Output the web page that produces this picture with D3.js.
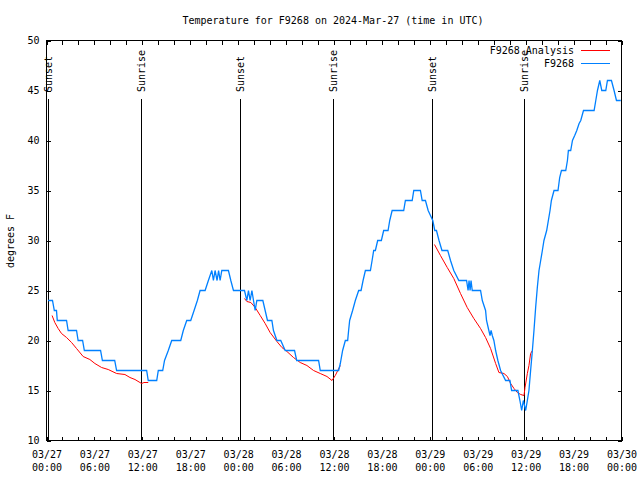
<!DOCTYPE html>
<html>
<head>
<meta charset="utf-8">
<script src="https://cdn.jsdelivr.net/npm/d3@7"></script>
<style>
  html, body { margin: 0; padding: 0; background: #fff; }
  svg text { font-family: "DejaVu Sans Mono", monospace; font-size: 10px; fill: #000; }
</style>
</head>
<body>
<svg id="chart" width="640" height="480"></svg>
<script>
// ---- data (hours since 2024-03-27 00:00 UTC) ----
const obsHours = [0.2,0.75,0.98,1.25,1.35,2.51,2.71,3.76,3.96,4.52,4.74,6.77,7.0,8.54,8.78,12.54,12.74,13.8,14.0,14.55,
  14.78,15.25,15.68,16.81,17.13,17.56,18.06,18.48,18.89,19.23,19.86,20.27,20.7,20.9,21.11,21.36,21.55,21.74,21.95,22.78,
  23.08,23.41,24.79,25.09,25.29,25.5,25.72,25.92,26.13,26.34,27.09,27.38,27.67,28.22,28.42,28.85,29.33,29.89,31.06,31.33,
  34.07,34.28,36.58,36.79,37.08,37.42,37.71,37.83,37.96,38.33,38.67,39.09,39.39,39.64,39.93,40.56,40.77,40.97,41.18,41.47,
  41.93,42.22,42.77,42.98,43.28,44.73,44.94,45.79,45.99,46.82,47.04,47.45,47.79,48.08,48.37,48.62,48.83,49.15,49.52,50.24,
  50.59,51.0,51.63,52.6,52.79,52.91,53.04,53.16,53.31,54.35,54.57,54.98,55.1,55.39,55.54,55.67,55.82,56.02,56.24,56.52,
  56.86,57.49,58.03,58.24,59.03,59.28,59.5,59.71,60.0,60.21,60.41,60.62,60.84,61.04,61.25,61.46,61.67,61.88,62.09,62.29,
  62.63,63.05,63.22,63.55,64.05,64.26,64.48,65.02,65.23,65.35,65.64,65.86,66.14,66.4,66.69,66.9,67.24,68.57,68.78,68.99,
  69.28,69.53,70.03,70.24,70.74,71.07,71.37,71.91];
const obsTemps = [24,24,23,23,22,22,21,21,20,20,19,19,18,18,17,17,16,16,17,17,
  18,19,20,20,21,22,22,23,24,25,25,26,27,26,27,26,27,26,27,27,
  26,25,25,24,25,24,25,24,23,24,24,23,22,22,21,20,20,19,19,18,
  18,17,17,17.7,19,20,20,21,22,23,24,25,25,26,27,27,28,29,29,30,
  30,31,31,32,33,33,34,34,35,35,34,34,33,32.5,32,31,31,30,29,29,
  28,27,26,26,25,26,25,26,25,25,24,23,22,21,20.5,21,20.5,20,19,18,
  17,16,16,15,15,14,13,14,13,14,15,17,19,21,23.3,25.3,27,28,29,30,
  31,33,34,35,35,36.3,37,37,38,39,39,40,40.5,41,41.7,42,43,43,44,45,
  46,45,45,46,46,45,44,44];

// analysis series; null marks a gap
const anaHours = [0.7,1.04,1.46,1.88,2.51,3.14,3.76,4.59,5.43,6.06,6.9,7.73,8.78,9.82,10.45,11.08,11.7,11.92,12.2,12.74,
  null,
  24.79,25.09,25.59,26.13,26.76,27.38,28.0,28.85,29.48,30.11,30.93,31.77,32.61,33.44,34.28,35.12,35.75,36.16,36.79,
  null,
  48.58,49.33,50.18,51.0,51.84,52.68,53.51,54.35,54.98,55.61,56.24,56.65,57.28,57.71,58.12,58.54,58.96,59.38,59.79,59.92,
  60.21,60.41,60.62,60.84];
const anaTemps = [22.5,21.8,21.2,20.7,20.3,19.8,19.2,18.4,18.1,17.7,17.3,17.1,16.7,16.6,16.3,16.1,15.8,15.7,15.8,15.8,
  null,
  24.2,23.9,23.8,23.3,22.5,21.7,20.8,19.9,19.3,18.9,18.3,17.8,17.5,17.0,16.7,16.4,16.0,16.5,17.5,
  null,
  29.6,28.5,27.3,26.2,24.7,23.3,22.2,21.2,20.3,19.2,17.7,16.8,16.7,16.4,15.7,15.2,14.8,14.6,14.5,15.3,
  16.7,17.5,18.7,19.0];

const eventHours = [0.15, 11.8, 24.2, 35.85, 48.3, 59.85];
const eventLabels = ["Sunset","Sunrise","Sunset","Sunrise","Sunset","Sunrise"];

const yTicks = [10,15,20,25,30,35,40,45,50];
const titleText = "Temperature for F9268 on 2024-Mar-27 (time in UTC)";
const yLabel = "degrees F";
const seriesNames = ["F9268 Analysis", "F9268"];
const seriesColors = ["#ff0000", "#0080ff"];

// ---- drawing ----
const t0 = Date.UTC(2024, 2, 27);
const toDate = h => new Date(t0 + h * 3600e3);

const svg = d3.select("#chart");
const x = d3.scaleUtc().domain([toDate(0), toDate(72)]).range([46.5, 621.5]);
const y = d3.scaleLinear().domain([10, 50]).range([440.5, 40.5]);

// ticks every 2h, labels every 6h
const tickDates = d3.utcHour.every(2).range(toDate(0), toDate(72.01));
const fmtD = d3.utcFormat("%m/%d"), fmtT = d3.utcFormat("%H:%M");

const xb = svg.append("g").attr("transform", "translate(0,440.5)")
  .call(d3.axisBottom(x).tickValues(tickDates).tickSize(-4).tickPadding(6).tickFormat(""));
const xt = svg.append("g").attr("transform", "translate(0,40.5)")
  .call(d3.axisTop(x).tickValues(tickDates).tickSize(-4).tickFormat(""));
const yl = svg.append("g").attr("transform", "translate(46.5,0)")
  .call(d3.axisLeft(y).tickValues(yTicks).tickSize(-4).tickPadding(7).tickFormat(d3.format("d")));
const yr = svg.append("g").attr("transform", "translate(621.5,0)")
  .call(d3.axisRight(y).tickValues(yTicks).tickSize(-4).tickFormat(""));
[xb, xt, yl, yr].forEach(g => {
  g.select(".domain").remove();
  g.selectAll(".tick line").attr("stroke", "#000").attr("shape-rendering", "crispEdges");
  g.selectAll("text").attr("font-family", "DejaVu Sans Mono").attr("font-size", 10).attr("fill", "#000");
});

// x labels: two lines
xb.selectAll(".tick").each(function(d) {
  if (d.getUTCHours() % 6 !== 0) return;
  const t = d3.select(this).append("text")
    .attr("text-anchor", "middle").attr("font-family", "DejaVu Sans Mono").attr("font-size", 10).attr("fill", "#000");
  t.append("tspan").attr("x", 0).attr("y", 17).text(fmtD(d));
  t.append("tspan").attr("x", 0).attr("y", 30).text(fmtT(d));
});

// frame
svg.append("rect").attr("x", 46.5).attr("y", 40.5).attr("width", 575).attr("height", 400)
  .attr("fill", "none").attr("stroke", "#000").attr("shape-rendering", "crispEdges");

// sunrise / sunset
const ev = svg.append("g");
eventHours.forEach((h, i) => {
  const xx = Math.round(x(toDate(h))) + 0.5;
  ev.append("line").attr("x1", xx).attr("x2", xx).attr("y1", 99).attr("y2", 440)
    .attr("stroke", "#000").attr("stroke-width", 1).attr("shape-rendering", "crispEdges");
  ev.append("text").attr("transform", `translate(${xx},92) rotate(-90)`)
    .attr("dy", "0.35em").attr("text-anchor", "start").text(eventLabels[i]);
});

// series
const obs = obsHours.map((h, i) => ({ t: toDate(h), v: obsTemps[i] }));
const ana = anaHours.map((h, i) => ({ t: h === null ? null : toDate(h), v: anaTemps[i] }));
const line = d3.line().defined(d => d.t !== null && d.v !== null).x(d => x(d.t)).y(d => y(d.v));

svg.append("path").datum(ana).attr("d", line).attr("fill", "none")
  .attr("stroke", seriesColors[0]).attr("stroke-width", 1);
svg.append("path").datum(obs).attr("d", line).attr("fill", "none")
  .attr("stroke", seriesColors[1]).attr("stroke-width", 1.3);

// title & y label
svg.append("text").attr("x", 333).attr("y", 20).attr("dy", "0.35em").attr("text-anchor", "middle").text(titleText);
svg.append("text").attr("transform", "translate(10,241) rotate(-90)").attr("dy", "0.35em")
  .attr("text-anchor", "middle").text(yLabel);

// legend
seriesNames.forEach((n, i) => {
  const ly = 50.5 + i * 13;
  svg.append("text").attr("x", 574).attr("y", ly).attr("dy", "0.35em").attr("text-anchor", "end").text(n);
  svg.append("line").attr("x1", 581).attr("x2", 610).attr("y1", ly).attr("y2", ly)
    .attr("stroke", seriesColors[i]).attr("stroke-width", 1).attr("shape-rendering", "crispEdges");
});
</script>
</body>
</html>
